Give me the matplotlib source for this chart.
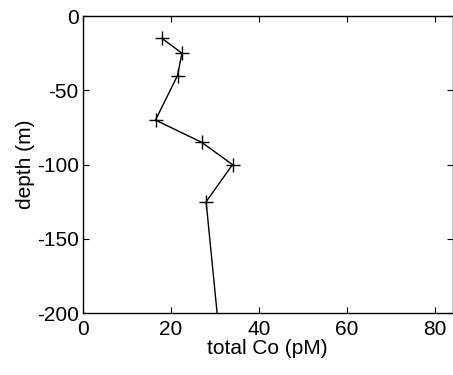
import numpy as np
import matplotlib.pyplot as plt

plt.rcParams['font.family'] = ['Liberation Sans', 'DejaVu Sans']
plt.rcParams['axes.unicode_minus'] = False

# total cobalt profile
co = [18, 22.5, 21.5, 16.5, 27, 34, 28, 30.5]
depth = [-15, -25, -40, -70, -85, -100, -125, -200]
xticks = [0, 20, 40, 60, 80]
yticks = [0, -50, -100, -150, -200]

fig = plt.figure(figsize=(4.53, 3.75), dpi=100)
ax = fig.add_axes([0.183, 0.165, 0.816, 0.792])

ax.plot(co, depth, color='black', lw=1.0, marker='+', ms=10, mew=1.0,
        markevery=list(range(len(co) - 1)))

ax.set_xlim(0, 84)
ax.set_ylim(-200, 0)
ax.set_xticks(xticks)
ax.set_yticks(yticks)
ax.tick_params(direction='in', top=True, right=True, length=4, labelsize=15)
ax.tick_params(axis='x', pad=5)
ax.tick_params(axis='y', pad=3)
for s in ax.spines.values():
    s.set_linewidth(1.0)
ax.set_xlabel('total Co (pM)', fontsize=15, labelpad=0)
ax.set_ylabel('depth (m)', fontsize=15, labelpad=1)

fig.savefig('out.png', dpi=100)
